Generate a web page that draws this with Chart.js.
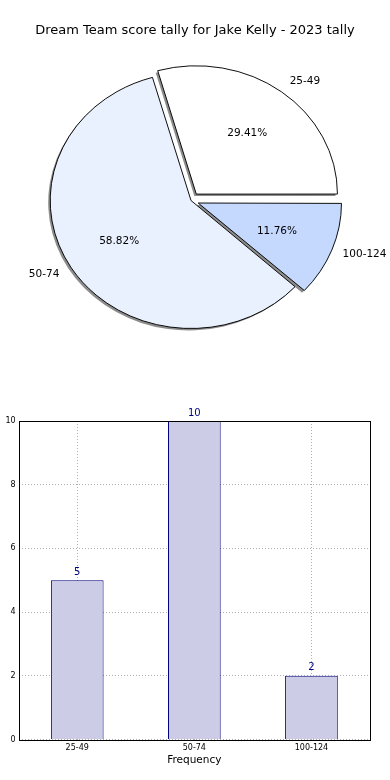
<!DOCTYPE html>
<html>
<head>
<meta charset="utf-8">
<script src="https://cdn.jsdelivr.net/npm/chart.js@4"></script>
<style>
  html, body { margin: 0; padding: 0; background: #fff; overflow: hidden; }
  body { width: 390px; height: 780px; position: relative; }
  #pieWrap { position: absolute; left: 0; top: 0; width: 390px; height: 370px; }
  #barWrap { position: absolute; left: -8px; top: 400px; width: 398px; height: 380px; }
</style>
</head>
<body>
<div id="pieWrap"><canvas id="pie"></canvas></div>
<div id="barWrap"><canvas id="bar"></canvas></div>
<script>
const categories = ["25-49", "50-74", "100-124"];
const counts = [5, 10, 2];
const pieColors = ["#ffffff", "#eaf1fe", "#c5d9fe"];
const pieExplode = [8, 0, 7];
const yTicks = [0, 2, 4, 6, 8, 10];

// the original pie is a little wider than tall
const pieStretchX = 1.1;
const pieShiftX = -4;

Chart.defaults.font.family = "'DejaVu Sans', sans-serif";
Chart.defaults.color = "#000";
Chart.defaults.animation = false;

const total = counts.reduce((a, b) => a + b, 0);

// matplotlib goes counter-clockwise from east, chart.js clockwise,
// so the pie gets the categories in reverse
const order = [2, 1, 0];

function arcGeom(arc) {
	const p = arc.getProps(["x", "y", "startAngle", "endAngle", "outerRadius"]);
	const mid = (p.startAngle + p.endAngle) / 2;
	// chart.js moves an arc by offset / 4 and grows thin arcs a bit
	const d = (arc.options.offset || 0) / 4;
	const circ = p.endAngle - p.startAngle;
	const grow = d * (1 - Math.sin(Math.min(Math.PI, circ)));
	return { ...p, mid, d, r: p.outerRadius + grow };
}

const pieDecor = {
	id: "pieDecor",
	beforeDatasetsDraw(chart) {
		const ctx = chart.ctx;
		const meta = chart.getDatasetMeta(0);
		const cx = meta.data[0].x;
		const cy = meta.data[0].y;
		ctx.save();
		ctx.translate(cx + pieShiftX, cy);
		ctx.scale(pieStretchX, 1);
		ctx.translate(-cx, -cy);
		// drop shadow, fill only
		ctx.fillStyle = "#8c8c8c";
		meta.data.forEach((arc) => {
			const g = arcGeom(arc);
			const ox = g.x + Math.cos(g.mid) * g.d - 2 / pieStretchX;
			const oy = g.y + Math.sin(g.mid) * g.d + 2;
			ctx.beginPath();
			ctx.moveTo(ox, oy);
			ctx.arc(ox, oy, g.r, g.startAngle, g.endAngle);
			ctx.closePath();
			ctx.fill();
		});
	},
	afterDatasetsDraw(chart) {
		const ctx = chart.ctx;
		ctx.restore();
		const meta = chart.getDatasetMeta(0);
		ctx.save();
		ctx.font = "10.5px 'DejaVu Sans'";
		ctx.fillStyle = "#000";
		ctx.textBaseline = "middle";
		meta.data.forEach((arc, i) => {
			const g = arcGeom(arc);
			const r = arc.outerRadius;
			const ux = Math.cos(g.mid) * pieStretchX;
			const uy = Math.sin(g.mid);
			const cx = g.x + pieShiftX + ux * g.d;
			const cy = g.y + uy * g.d;
			const idx = order[i];
			const pct = (counts[idx] / total * 100).toFixed(2) + "%";
			ctx.textAlign = "center";
			ctx.fillText(pct, cx + ux * r * 0.6, cy + uy * r * 0.6);
			ctx.textAlign = ux > 0 ? "left" : "right";
			ctx.fillText(categories[idx], cx + ux * r * 1.1, cy + uy * r * 1.1);
		});
		ctx.restore();
	},
};

new Chart(document.getElementById("pie"), {
	type: "pie",
	data: {
		labels: order.map((i) => categories[i]),
		datasets: [
			{
				data: order.map((i) => counts[i]),
				backgroundColor: order.map((i) => pieColors[i]),
				offset: order.map((i) => pieExplode[i] * 4),
				borderColor: "#000",
				borderWidth: 0.9,
			},
		],
	},
	options: {
		responsive: true,
		maintainAspectRatio: false,
		rotation: 90,
		radius: 128,
		layout: { padding: { left: 0, right: 0, bottom: 27.6 } },
		plugins: {
			legend: { display: false },
			tooltip: { enabled: false },
			title: {
				display: true,
				text: "Dream Team score tally for Jake Kelly - 2023 tally",
				font: { size: 13, weight: "normal" },
				color: "#000",
				padding: { top: 23, bottom: 20 },
			},
		},
	},
	plugins: [pieDecor],
});

const barValues = {
	id: "barValues",
	afterDatasetsDraw(chart) {
		const ctx = chart.ctx;
		const meta = chart.getDatasetMeta(0);
		ctx.save();
		ctx.font = "10px 'DejaVu Sans'";
		ctx.fillStyle = "#000080";
		ctx.textAlign = "center";
		ctx.textBaseline = "bottom";
		meta.data.forEach((bar, i) => {
			ctx.fillText(String(counts[i]), bar.x, bar.y - 3);
		});
		ctx.restore();
	},
};

const frame = {
	id: "frame",
	afterDraw(chart) {
		const { left, top, right, bottom } = chart.chartArea;
		const ctx = chart.ctx;
		ctx.save();
		ctx.strokeStyle = "#000";
		ctx.lineWidth = 1;
		ctx.strokeRect(Math.round(left) + 0.5, Math.round(top) + 0.5, Math.round(right - left), Math.round(bottom - top));
		ctx.restore();
	},
};

new Chart(document.getElementById("bar"), {
	type: "bar",
	data: {
		labels: categories,
		datasets: [
			{
				data: counts,
				backgroundColor: "#ccccE6",
				borderColor: "#000080",
				borderWidth: 1,
				barPercentage: 0.45,
				categoryPercentage: 1,
			},
		],
	},
	options: {
		responsive: true,
		maintainAspectRatio: false,
		layout: { padding: { top: 21, right: 20, bottom: 14, left: 0 } },
		plugins: {
			legend: { display: false },
			tooltip: { enabled: false },
		},
		scales: {
			x: {
				grid: {
					offset: false,
					color: "#b0b0b0",
					lineWidth: 1,
					drawTicks: false,
				},
				border: { display: false, dash: [1, 2] },
				ticks: { font: { size: 8, lineHeight: 1 }, color: "#000", padding: 4 },
				title: {
					display: true,
					text: "Frequency",
					font: { size: 10.5, lineHeight: 1 },
					color: "#000",
					padding: { top: 0, bottom: 0 },
				},
			},
			y: {
				min: 0,
				max: 10,
				afterBuildTicks(axis) {
					axis.ticks = yTicks.map((v) => ({ value: v }));
				},
				grid: {
					color: "#b0b0b0",
					lineWidth: 1,
					drawTicks: false,
				},
				border: { display: false, dash: [1, 2] },
				ticks: { font: { size: 8 }, color: "#000", padding: 3 },
				title: {
					display: true,
					text: "Occurrences",
					font: { size: 10.5, lineHeight: 1 },
					color: "#000",
					padding: { top: 0, bottom: 0 },
				},
			},
		},
	},
	plugins: [barValues, frame],
});
</script>
</body>
</html>
